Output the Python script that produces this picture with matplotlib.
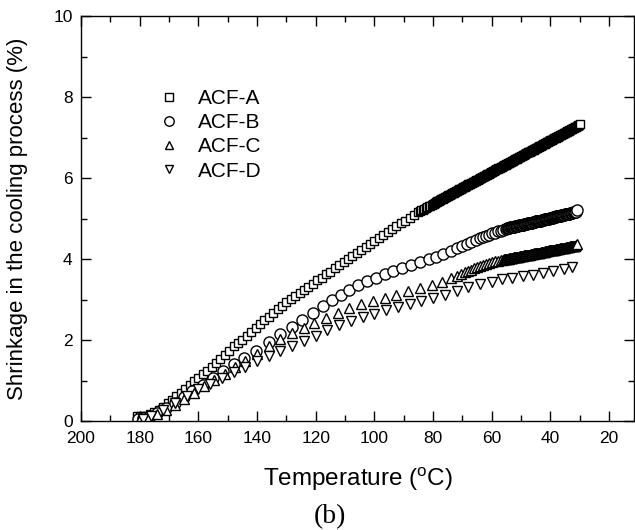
import matplotlib
matplotlib.use("Agg")
import matplotlib.pyplot as plt
from matplotlib.ticker import MultipleLocator

# temperatures (deg C) and shrinkage (%), cooling from ~180 C
# (the logger samples much more often near room temperature)
acf_a_temp = [181, 180, 179, 178, 176.5, 175, 173.5, 172, 170.5, 169,
              167.5, 166, 164.5, 163, 161.5, 160, 158.5, 157, 155.5, 154,
              152.5, 151, 149.5, 148, 146.5, 145, 143.5, 142, 140.5, 139,
              137.5, 136, 134.5, 133, 131.5, 130, 128.5, 127, 125.5, 124,
              122.5, 121, 119.5, 118, 116.5, 115, 113.5, 112, 110.5, 109,
              107.5, 106, 104.5, 103, 101.5, 100, 98.5, 97, 95.5, 94,
              92.5, 91, 89.5, 88, 86.5, 85,
              84.5, 84, 83.5, 83, 82.5, 82, 81.5, 81, 80.5,
              80, 79.75, 79.5, 79.25, 79, 78.75, 78.5, 78.25, 78, 77.75, 77.5, 77.25, 77, 76.75, 76.5, 76.25, 76, 75.75, 75.5, 75.25,
              75, 74.75, 74.5, 74.25, 74, 73.75, 73.5, 73.25, 73, 72.75, 72.5, 72.25, 72, 71.75, 71.5, 71.25, 71, 70.75, 70.5, 70.25,
              70, 69.75, 69.5, 69.25, 69, 68.75, 68.5, 68.25, 68, 67.75, 67.5, 67.25, 67, 66.75, 66.5, 66.25, 66, 65.75, 65.5, 65.25,
              65, 64.75, 64.5, 64.25, 64, 63.75, 63.5, 63.25, 63, 62.75, 62.5, 62.25, 62, 61.75, 61.5, 61.25, 61, 60.75, 60.5, 60.25,
              60, 59.75, 59.5, 59.25, 59, 58.75, 58.5, 58.25, 58, 57.75, 57.5, 57.25, 57, 56.75, 56.5, 56.25, 56, 55.75, 55.5, 55.25,
              55, 54.75, 54.5, 54.25, 54, 53.75, 53.5, 53.25, 53, 52.75, 52.5, 52.25, 52, 51.75, 51.5, 51.25, 51, 50.75, 50.5, 50.25,
              50, 49.75, 49.5, 49.25, 49, 48.75, 48.5, 48.25, 48, 47.75, 47.5, 47.25, 47, 46.75, 46.5, 46.25, 46, 45.75, 45.5, 45.25,
              45, 44.75, 44.5, 44.25, 44, 43.75, 43.5, 43.25, 43, 42.75, 42.5, 42.25, 42, 41.75, 41.5, 41.25, 41, 40.75, 40.5, 40.25,
              40, 39.75, 39.5, 39.25, 39, 38.75, 38.5, 38.25, 38, 37.75, 37.5, 37.25, 37, 36.75, 36.5, 36.25, 36, 35.75, 35.5, 35.25,
              35, 34.75, 34.5, 34.25, 34, 33.75, 33.5, 33.25, 33, 32.75, 32.5, 32.25, 32, 31.75, 31.5, 31.25, 31, 30.75, 30.5, 30.25,
              30]
acf_a_shrink = [0.12, 0.12, 0.12, 0.13, 0.17, 0.21, 0.28, 0.35, 0.44, 0.53,
                0.62, 0.70, 0.80, 0.90, 0.98, 1.06, 1.15, 1.24, 1.34, 1.44,
                1.54, 1.64, 1.74, 1.84, 1.93, 2.01, 2.10, 2.19, 2.29, 2.39,
                2.49, 2.58, 2.67, 2.76, 2.85, 2.93, 3.01, 3.09, 3.17, 3.24,
                3.32, 3.39, 3.47, 3.54, 3.62, 3.69, 3.77, 3.84, 3.92, 4.00,
                4.08, 4.15, 4.23, 4.30, 4.38, 4.45, 4.53, 4.60, 4.67, 4.74,
                4.81, 4.88, 4.95, 5.02, 5.09, 5.16,
                5.18, 5.20, 5.22, 5.24, 5.26, 5.28, 5.30, 5.32, 5.34,
                5.36, 5.37, 5.38, 5.39, 5.40, 5.41, 5.42, 5.43, 5.44, 5.45, 5.46, 5.47, 5.48, 5.49, 5.50, 5.51, 5.52, 5.53, 5.54, 5.55,
                5.56, 5.57, 5.58, 5.59, 5.60, 5.61, 5.62, 5.63, 5.64, 5.65, 5.66, 5.67, 5.68, 5.69, 5.70, 5.71, 5.72, 5.73, 5.74, 5.75,
                5.76, 5.77, 5.78, 5.79, 5.80, 5.81, 5.82, 5.83, 5.84, 5.85, 5.85, 5.86, 5.87, 5.88, 5.89, 5.90, 5.91, 5.92, 5.93, 5.94,
                5.95, 5.96, 5.97, 5.98, 5.99, 6.00, 6.01, 6.02, 6.03, 6.04, 6.05, 6.06, 6.07, 6.08, 6.09, 6.10, 6.11, 6.12, 6.13, 6.14,
                6.15, 6.16, 6.17, 6.18, 6.19, 6.20, 6.21, 6.22, 6.23, 6.24, 6.24, 6.25, 6.26, 6.27, 6.28, 6.29, 6.30, 6.31, 6.32, 6.33,
                6.34, 6.35, 6.36, 6.37, 6.38, 6.39, 6.40, 6.41, 6.42, 6.43, 6.44, 6.45, 6.46, 6.47, 6.48, 6.49, 6.50, 6.51, 6.52, 6.53,
                6.54, 6.55, 6.56, 6.57, 6.58, 6.59, 6.60, 6.61, 6.62, 6.63, 6.63, 6.64, 6.65, 6.66, 6.67, 6.68, 6.69, 6.70, 6.71, 6.72,
                6.73, 6.74, 6.75, 6.76, 6.77, 6.78, 6.79, 6.80, 6.81, 6.82, 6.83, 6.84, 6.85, 6.86, 6.87, 6.88, 6.89, 6.90, 6.91, 6.92,
                6.93, 6.94, 6.95, 6.96, 6.97, 6.98, 6.99, 7.00, 7.01, 7.02, 7.02, 7.03, 7.04, 7.05, 7.06, 7.07, 7.08, 7.09, 7.10, 7.11,
                7.12, 7.13, 7.14, 7.15, 7.16, 7.17, 7.18, 7.19, 7.20, 7.21, 7.22, 7.23, 7.24, 7.25, 7.26, 7.27, 7.28, 7.29, 7.30, 7.31,
                7.33]

acf_b_temp = [180.5, 179, 176.5, 174, 171, 168, 165, 162, 158.5, 155,
              151.5, 148, 144.5, 140.5, 136, 132, 128, 124.5, 121, 117.5,
              114.5, 111.5, 108.5, 105.5, 102.5, 99.5, 96.5, 93.5, 90.5, 87.5,
              84.5, 81.5, 79, 76.5, 74, 72, 70, 68.5, 67, 65.5,
              64, 63, 62, 61, 60, 59, 58, 57, 56, 55,
              54.75, 54.5, 54.25, 54, 53.75, 53.5, 53.25, 53, 52.75, 52.5, 52.25, 52, 51.75, 51.5, 51.25, 51, 50.75, 50.5, 50.25, 50,
              49.75, 49.5, 49.25, 49, 48.75, 48.5, 48.25, 48, 47.75, 47.5, 47.25, 47, 46.75, 46.5, 46.25, 46, 45.75, 45.5, 45.25, 45,
              44.75, 44.5, 44.25, 44, 43.75, 43.5, 43.25, 43, 42.75, 42.5, 42.25, 42, 41.75, 41.5, 41.25, 41, 40.75, 40.5, 40.25, 40,
              39.75, 39.5, 39.25, 39, 38.75, 38.5, 38.25, 38, 37.75, 37.5, 37.25, 37, 36.75, 36.5, 36.25, 36, 35.75, 35.5, 35.25, 35,
              34.75, 34.5, 34.25, 34, 33.75, 33.5, 33.25, 33, 32.75, 32.5, 32.25, 32, 31.75, 31.5, 31.25,
              31]
acf_b_shrink = [0.05, 0.07, 0.13, 0.20, 0.32, 0.45, 0.60, 0.74, 0.90, 1.07,
                1.24, 1.40, 1.56, 1.74, 1.94, 2.14, 2.32, 2.49, 2.67, 2.84,
                2.98, 3.12, 3.24, 3.35, 3.45, 3.54, 3.62, 3.70, 3.77, 3.84,
                3.92, 4.00, 4.06, 4.13, 4.20, 4.26, 4.32, 4.37, 4.42, 4.47,
                4.52, 4.55, 4.58, 4.60, 4.63, 4.65, 4.68, 4.70, 4.72, 4.75,
                4.76, 4.76, 4.77, 4.77, 4.78, 4.78, 4.79, 4.79, 4.79, 4.80, 4.80, 4.81, 4.81, 4.82, 4.82, 4.82, 4.83, 4.83, 4.84, 4.84,
                4.85, 4.85, 4.85, 4.86, 4.86, 4.87, 4.87, 4.87, 4.88, 4.88, 4.89, 4.89, 4.90, 4.90, 4.90, 4.91, 4.91, 4.92, 4.92, 4.93,
                4.93, 4.93, 4.94, 4.94, 4.95, 4.95, 4.95, 4.96, 4.96, 4.97, 4.97, 4.98, 4.98, 4.98, 4.99, 4.99, 5.00, 5.00, 5.01, 5.01,
                5.02, 5.02, 5.02, 5.03, 5.03, 5.04, 5.04, 5.05, 5.05, 5.05, 5.06, 5.06, 5.07, 5.07, 5.08, 5.08, 5.08, 5.09, 5.09, 5.10,
                5.10, 5.11, 5.11, 5.12, 5.12, 5.12, 5.13, 5.13, 5.14, 5.14, 5.15, 5.15, 5.15, 5.16, 5.16,
                5.20]

acf_c_temp = [180, 177, 174, 171, 168, 165, 161.5, 158, 154.5, 151,
              147.5, 144, 140, 136, 132, 128, 124, 120.5, 116.5, 112.5,
              108.5, 104.5, 100.5, 96.5, 92.5, 88.5, 84.5, 80.5, 77, 74,
              72, 70.5, 69, 68, 67, 66, 65, 64, 63, 62,
              61, 60, 59, 58, 57, 56,
              55.75, 55.5, 55.25, 55, 54.75, 54.5, 54.25, 54, 53.75, 53.5, 53.25, 53, 52.75, 52.5, 52.25, 52, 51.75, 51.5, 51.25, 51,
              50.75, 50.5, 50.25, 50, 49.75, 49.5, 49.25, 49, 48.75, 48.5, 48.25, 48, 47.75, 47.5, 47.25, 47, 46.75, 46.5, 46.25, 46,
              45.75, 45.5, 45.25, 45, 44.75, 44.5, 44.25, 44, 43.75, 43.5, 43.25, 43, 42.75, 42.5, 42.25, 42, 41.75, 41.5, 41.25, 41,
              40.75, 40.5, 40.25, 40, 39.75, 39.5, 39.25, 39, 38.75, 38.5, 38.25, 38, 37.75, 37.5, 37.25, 37, 36.75, 36.5, 36.25, 36,
              35.75, 35.5, 35.25, 35, 34.75, 34.5, 34.25, 34, 33.75, 33.5, 33.25, 33, 32.75, 32.5, 32.25, 32, 31.75, 31.5, 31.25,
              31]
acf_c_shrink = [0.04, 0.08, 0.17, 0.28, 0.40, 0.54, 0.70, 0.86, 1.02, 1.17,
                1.33, 1.49, 1.66, 1.84, 2.02, 2.17, 2.30, 2.41, 2.54, 2.67,
                2.78, 2.88, 2.96, 3.04, 3.12, 3.20, 3.28, 3.36, 3.44, 3.52,
                3.58, 3.63, 3.67, 3.70, 3.73, 3.77, 3.80, 3.83, 3.86, 3.88,
                3.90, 3.92, 3.94, 3.95, 3.97, 3.98,
                3.99, 3.99, 4.00, 4.00, 4.00, 4.01, 4.01, 4.02, 4.02, 4.02, 4.03, 4.03, 4.03, 4.04, 4.04, 4.04, 4.05, 4.05, 4.05, 4.06,
                4.06, 4.07, 4.07, 4.07, 4.08, 4.08, 4.08, 4.09, 4.09, 4.09, 4.10, 4.10, 4.10, 4.11, 4.11, 4.11, 4.12, 4.12, 4.12, 4.13,
                4.13, 4.14, 4.14, 4.14, 4.15, 4.15, 4.15, 4.16, 4.16, 4.16, 4.17, 4.17, 4.17, 4.18, 4.18, 4.18, 4.19, 4.19, 4.19, 4.20,
                4.20, 4.21, 4.21, 4.21, 4.22, 4.22, 4.22, 4.23, 4.23, 4.23, 4.24, 4.24, 4.24, 4.25, 4.25, 4.25, 4.26, 4.26, 4.26, 4.27,
                4.27, 4.28, 4.28, 4.28, 4.29, 4.29, 4.29, 4.30, 4.30, 4.30, 4.31, 4.31, 4.31, 4.32, 4.32, 4.32, 4.33, 4.33, 4.34,
                4.36]

acf_d_temp = [179, 176, 172, 168, 164, 160, 156, 152, 148, 144,
              140, 136, 132, 128, 124, 120, 116, 112, 108, 104,
              100, 96, 92, 88, 84, 80, 76, 72, 68, 64,
              60, 56.5, 53, 49.5, 46, 42.5, 39, 35.5, 32.5]
acf_d_shrink = [0.05, 0.12, 0.28, 0.45, 0.62, 0.78, 0.92, 1.06, 1.21, 1.34,
                1.47, 1.60, 1.73, 1.86, 1.98, 2.10, 2.24, 2.37, 2.47, 2.56,
                2.65, 2.73, 2.81, 2.89, 2.97, 3.04, 3.12, 3.20, 3.30, 3.38,
                3.44, 3.50, 3.54, 3.58, 3.61, 3.65, 3.70, 3.75, 3.80]

labels = ['ACF-A', 'ACF-B', 'ACF-C', 'ACF-D']

plt.rcParams['font.family'] = ['Liberation Sans', 'DejaVu Sans']
plt.rcParams['mathtext.fontset'] = 'custom'
plt.rcParams['mathtext.rm'] = 'Liberation Sans'

fig = plt.figure(figsize=(6.35, 5.30), dpi=100)
ax = fig.add_axes([81 / 635, 1 - 421 / 530, 553 / 635, 405 / 530])

series = [(acf_a_temp, acf_a_shrink, 's', 6.0),
          (acf_b_temp, acf_b_shrink, 'o', 8.0),
          (acf_c_temp, acf_c_shrink, '^', 7.5),
          (acf_d_temp, acf_d_shrink, 'v', 7.5)]

for (temp, shrink, marker, size), label in zip(series, labels):
    ax.plot(temp, shrink, linestyle='none', marker=marker, markersize=size,
            markerfacecolor='white', markeredgecolor='black',
            markeredgewidth=1.0, label=label)

ax.set_xlim(200, 11.5)
ax.set_ylim(0, 10)
ax.xaxis.set_major_locator(MultipleLocator(20))
ax.xaxis.set_minor_locator(MultipleLocator(10))
ax.yaxis.set_major_locator(MultipleLocator(2))
ax.yaxis.set_minor_locator(MultipleLocator(1))
ax.tick_params(which='both', direction='in', top=True, right=True, width=1)
ax.tick_params(which='major', length=7, labelsize=12.5)
ax.tick_params(which='minor', length=4)
ax.tick_params(axis='x', pad=7)
ax.tick_params(axis='y', pad=6)
for sp in ax.spines.values():
    sp.set_linewidth(1)

ax.set_xlabel(r'Temperature ($\mathregular{^o}$C)', fontsize=17.5)
ax.set_ylabel('Shrinkage in the cooling process (%)', fontsize=16)
ax.xaxis.set_label_coords(0.5, -0.11)
ax.yaxis.set_label_coords(-0.095, 0.5)

ax.legend(loc='upper left', bbox_to_anchor=(0.14, 0.82), frameon=False,
          fontsize=15, handlelength=1.0, handletextpad=0.9,
          labelspacing=0.25, markerscale=0.85, borderpad=0, borderaxespad=0)

fig.text(330 / 635, 1 - 517 / 530, '(b)', family='Liberation Serif',
         fontsize=20, ha='center', va='center')

fig.savefig('out.png', dpi=100)
